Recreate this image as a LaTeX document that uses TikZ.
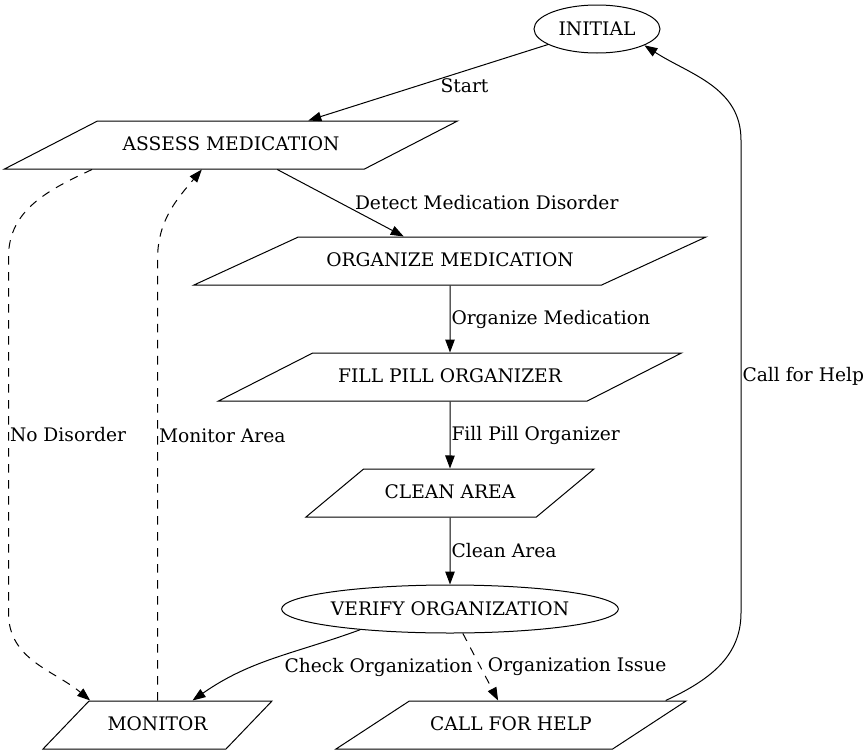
\documentclass[tikz,border=0pt]{standalone}
\usepackage{fontspec}
\setmainfont{DejaVu Serif}
\usepackage{tikz}
\usetikzlibrary{shapes.geometric, arrows.meta}
\tikzstyle{stateNode} = [ellipse, draw=black, minimum height=48pt, inner sep=0pt, text centered]
\tikzstyle{task} = [trapezium, trapezium stretches body, draw=black, text height=14pt, text depth=3pt, inner xsep=2pt, inner ysep=15.5pt, text centered]
\tikzstyle{arrow} = [line width=1pt, -{Triangle[length=13pt, width=9.5pt]}]
\tikzstyle{dashedArrow} = [arrow, dash pattern=on 8.5pt off 7.5pt]
\tikzstyle{tag} = [inner sep=1pt]

\begin{document}
\begin{tikzpicture}[x=1pt, y=-1pt, font=\fontsize{18.67}{22}\selectfont, line width=1pt]
\useasboundingbox (0,0) rectangle (868,755);
\node (init) [stateNode, minimum width=126pt] at (597,29) {INITIAL};
\node (assess) [task, trapezium left angle=27.3, trapezium right angle=152.7, minimum width=453pt] at (231,145) {ASSESS MEDICATION};
\node (organize) [task, trapezium left angle=24.7, trapezium right angle=155.3, minimum width=512pt] at (450,261) {ORGANIZE MEDICATION};
\node (fill) [task, trapezium left angle=27, trapezium right angle=153, minimum width=463pt] at (450,377) {FILL PILL ORGANIZER};
\node (clean) [task, trapezium left angle=39.8, trapezium right angle=140.2, minimum width=288pt] at (450,493) {CLEAN AREA};
\node (verify) [stateNode, minimum width=334pt] at (450,609) {VERIFY ORGANIZATION};
\node (monitor) [task, trapezium left angle=46.2, trapezium right angle=133.8, minimum width=229pt] at (157.5,725) {MONITOR};
\node (help) [task, trapezium left angle=33.2, trapezium right angle=146.8, minimum width=350pt] at (511,725) {CALL FOR HELP};
% bends of the long connectors
\coordinate (noDisTop) at (8.5,257);
\coordinate (noDisBot) at (8.5,613);
\coordinate (monTop) at (157.5,260);
\coordinate (helpBot) at (741,613);
\coordinate (helpTop) at (741,140);
\draw [arrow] (init) -- node [midway, right, tag, xshift=11pt, yshift=-3pt] {Start} (assess);
\draw [arrow] (assess) -- node [midway, right, tag, xshift=13pt] {Detect Medication Disorder} (organize);
\draw [arrow] (organize) -- node [right, tag] {Organize Medication} (fill);
\draw [arrow] (fill) -- node [right, tag] {Fill Pill Organizer} (clean);
\draw [arrow] (clean) -- node [right, tag] {Clean Area} (verify);
\draw [arrow] (verify.193) to [out=200, in=35] node [midway, right, tag, xshift=10pt, yshift=-9pt] {Check Organization} (monitor.35);
\draw [dashedArrow] (verify) -- node [midway, right, tag, xshift=6pt] {Organization Issue} (help);
\draw [arrow] (help.9.3) to [out=25, in=-90] (helpBot) -- node [right, tag] {Call for Help} (helpTop) to [out=90, in=-33] (init.-19);
\draw [dashedArrow] (assess.190) to [out=205, in=90] (noDisTop) -- node [right, tag] {No Disorder} (noDisBot) to [out=-90, in=140] (monitor.160);
\draw [dashedArrow] (monitor.north) -- node [pos=0.6, right, tag] {Monitor Area} (monTop) to [out=90, in=230] (assess.220);
\end{tikzpicture}
\end{document}
